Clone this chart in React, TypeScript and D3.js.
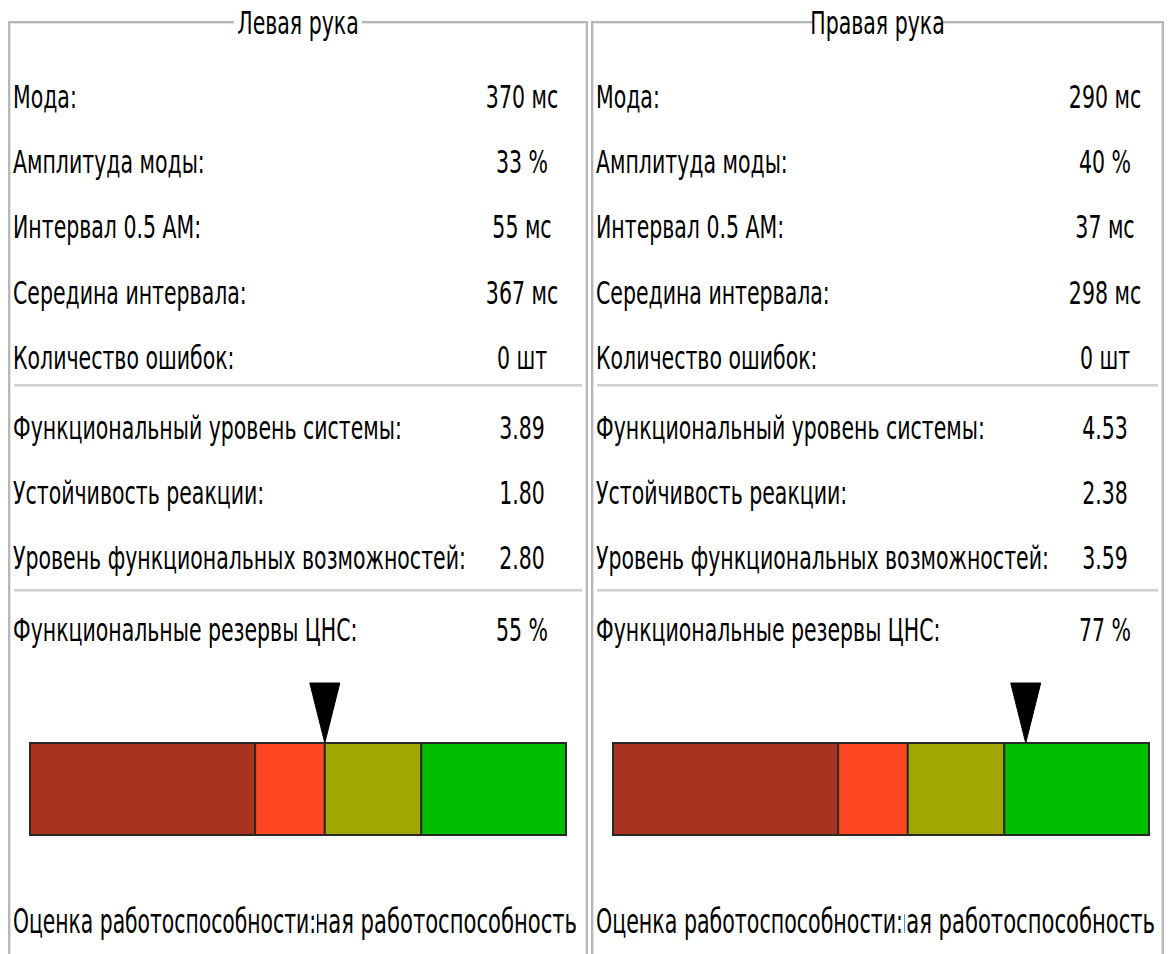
import React from "react";
import * as d3 from "d3";

const panelTitles = ["Левая рука", "Правая рука"];
const rowLabels = [
  "Мода:",
  "Амплитуда моды:",
  "Интервал 0.5 АМ:",
  "Середина интервала:",
  "Количество ошибок:",
  "Функциональный уровень системы:",
  "Устойчивость реакции:",
  "Уровень функциональных возможностей:",
  "Функциональные резервы ЦНС:",
];
const leftValues = ["370 мс", "33 %", "55 мс", "367 мс", "0 шт", "3.89", "1.80", "2.80", "55 %"];
const rightValues = ["290 мс", "40 %", "37 мс", "298 мс", "0 шт", "4.53", "2.38", "3.59", "77 %"];
const reserves = [55, 77];
const zoneThresholds = [0, 42, 55, 73, 100];
const zoneColors = ["#a83321", "#ff4823", "#a2a600", "#00be00"];
const assessmentLabel = "Оценка работоспособности:";
const assessments = ["Удовлетворительная работоспособность", "Нормальная работоспособность"];

const W = 1168;
const H = 954;
const FONT = "'DejaVu Sans', sans-serif";
const SX = 0.64;
const FS = 32;

const panels = [
  { x0: 9, x1: 587, values: leftValues, labelW: 303, valueRight: 10 },
  { x0: 592, x1: 1163, values: rightValues, labelW: 307, valueRight: 8 },
];

const rowBaselines = [108, 173, 238, 304, 369, 439, 504, 569, 641];
const separators = [385, 590];

function SText({ x, y, anchor = "start", size = FS, length, children }: any) {
  return (
    <text
      transform={`translate(${x},${y}) scale(${SX},1)`}
      textAnchor={anchor}
      fontFamily={FONT}
      fontSize={size}
      fill="#000"
      textLength={length ? length / SX : undefined}
      lengthAdjust={length ? "spacingAndGlyphs" : undefined}
    >
      {children}
    </text>
  );
}

export default function App() {
  return (
    <svg
      width={W}
      height={H}
      style={{ position: "absolute", left: 0, top: 0, background: "#fff" }}
    >
      <rect x={0} y={0} width={W} height={H} fill="#fff" />
      {panels.map((p, pi) => {
        const cx = (p.x0 + p.x1) / 2;
        const barScale = d3.scaleLinear().domain([0, 100]).range([p.x0 + 21, p.x0 + 557]);
        const tip = barScale(reserves[pi]);
        const barTop = 743;
        const barBottom = 835;
        const tri = d3.path();
        tri.moveTo(tip - 15, 683);
        tri.lineTo(tip + 15, 683);
        tri.lineTo(tip, barTop);
        tri.closePath();
        return (
          <g key={pi}>
            {/* group box border */}
            <rect x={p.x0} y={22} width={p.x1 - p.x0} height={H + 20} fill="none" stroke="#a0a0a0" strokeWidth={1.5} />
            <rect x={p.x0 + 1.5} y={23.5} width={p.x1 - p.x0 - 3} height={H + 20} fill="none" stroke="#e4e4e4" strokeWidth={1} />
            <rect x={cx - 64} y={8} width={128} height={30} fill="#fff" />
            <SText x={cx} y={34} anchor="middle">{panelTitles[pi]}</SText>

            {rowLabels.map((lab, i) => (
              <g key={i}>
                <SText x={p.x0 + 4} y={rowBaselines[i]}>{lab}</SText>
                <SText x={p.x0 + 513} y={rowBaselines[i]} anchor="middle">{p.values[i]}</SText>
              </g>
            ))}

            {separators.map((sy, i) => (
              <g key={i}>
                <line x1={p.x0 + 5} x2={p.x1 - 5} y1={sy} y2={sy} stroke="#a0a0a0" strokeWidth={1.2} />
                <line x1={p.x0 + 5} x2={p.x1 - 5} y1={sy + 1.3} y2={sy + 1.3} stroke="#dcdcdc" strokeWidth={1} />
              </g>
            ))}

            {/* zone bar */}
            {zoneColors.map((c, i) => (
              <rect
                key={i}
                x={barScale(zoneThresholds[i])}
                y={barTop}
                width={barScale(zoneThresholds[i + 1]) - barScale(zoneThresholds[i])}
                height={barBottom - barTop}
                fill={c}
                stroke="#2a2a22"
                strokeWidth={2}
              />
            ))}
            <path d={tri.toString()} fill="#000" stroke="#000" strokeWidth={1} />

            {/* assessment: value drawn first, label with opaque background over it */}
            <SText x={p.x1 - p.valueRight} y={933} anchor="end" size={33}>{assessments[pi]}</SText>
            <rect x={p.x0 + 2} y={895} width={p.labelW + 3} height={50} fill="#fff" />
            <SText x={p.x0 + 4} y={933} size={33} length={p.labelW}>{assessmentLabel}</SText>
          </g>
        );
      })}
    </svg>
  );
}
